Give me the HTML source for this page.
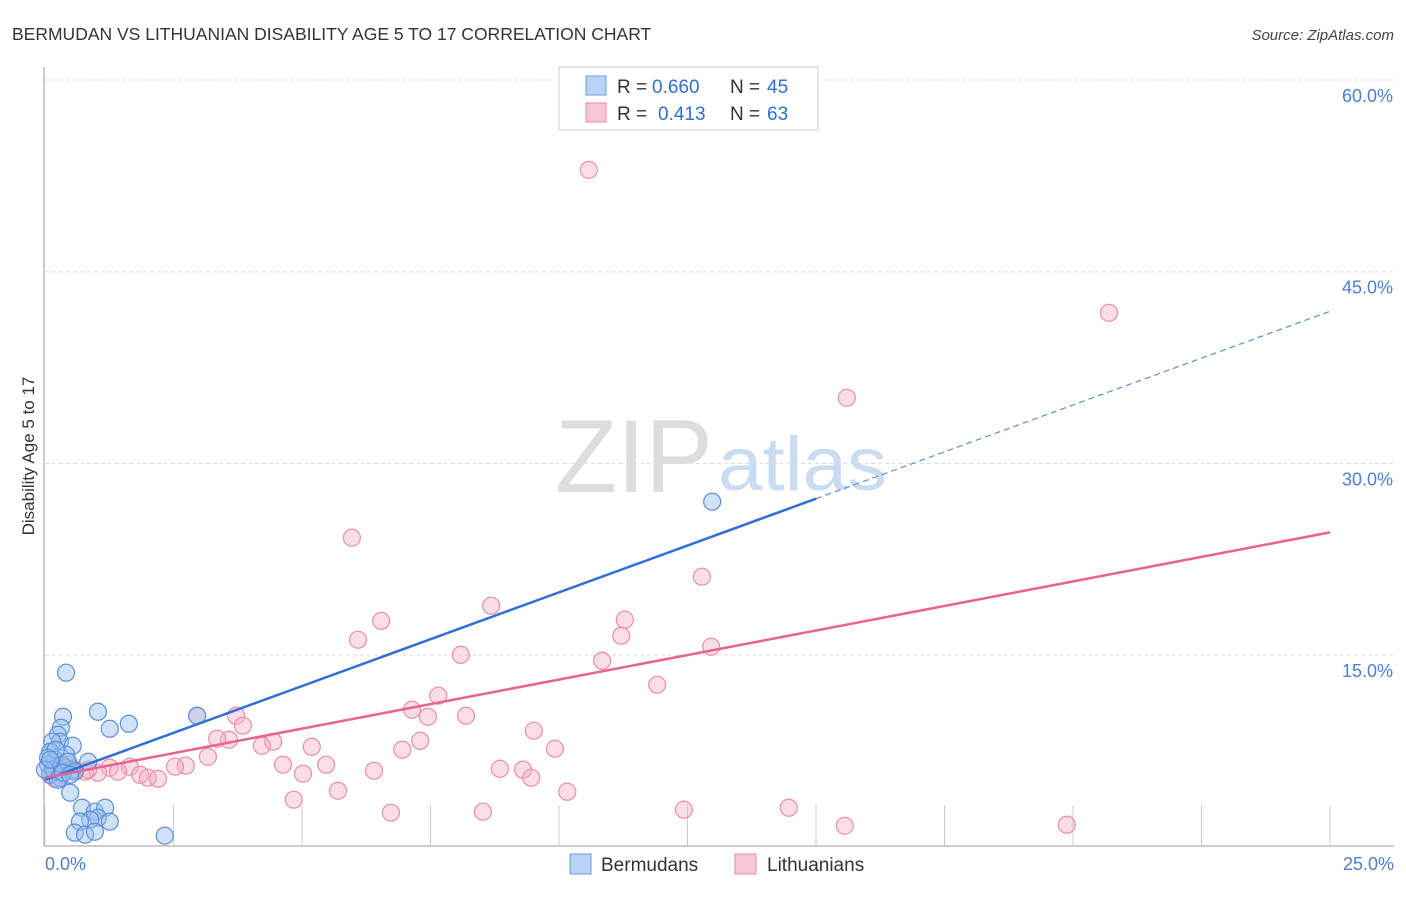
<!DOCTYPE html>
<html><head><meta charset="utf-8"><style>
body{margin:0;background:#fff;font-family:"Liberation Sans",sans-serif;}
svg text{font-family:"Liberation Sans",sans-serif;}
</style></head><body>
<svg id="chart" width="1406" height="892" viewBox="0 0 1406 892" xmlns="http://www.w3.org/2000/svg">
<text x="12" y="40" font-size="17.5" fill="#333">BERMUDAN VS LITHUANIAN DISABILITY AGE 5 TO 17 CORRELATION CHART</text>
<text x="1394" y="40" font-size="15" fill="#444" text-anchor="end" font-style="italic">Source: ZipAtlas.com</text>
<text x="555" y="492" font-size="104" fill="#ddd" font-family="Liberation Serif" textLength="158" lengthAdjust="spacingAndGlyphs">ZIP</text>
<text x="718" y="490" font-size="76" fill="#c9dcf0" textLength="169" lengthAdjust="spacingAndGlyphs">atlas</text>
<g id="grid"></g>
<g id="axes"></g>
<g id="pts"></g>
<g id="trend"></g>
<text transform="translate(34,456) rotate(-90)" font-size="17" fill="#333" text-anchor="middle">Disability Age 5 to 17</text>
<g>
<rect x="559" y="67" width="259" height="63" fill="#fff" stroke="#ccc"/>
<rect x="586" y="76" width="20" height="19" fill="#b8d3f5" stroke="#6b9ee0"/>
<rect x="586" y="103" width="20" height="19" fill="#f9c6d4" stroke="#e98eab"/>
<text x="617" y="93" font-size="19" fill="#333">R =</text>
<text x="652" y="93" font-size="19" fill="#2f6fd0">0.660</text>
<text x="730" y="93" font-size="19" fill="#333">N =</text>
<text x="767" y="93" font-size="19" fill="#2f6fd0">45</text>
<text x="617" y="120" font-size="19" fill="#333">R =</text>
<text x="658" y="120" font-size="19" fill="#2f6fd0">0.413</text>
<text x="730" y="120" font-size="19" fill="#333">N =</text>
<text x="767" y="120" font-size="19" fill="#2f6fd0">63</text>
</g>
<g>
<rect x="570" y="854" width="21" height="20" fill="#b8d3f5" stroke="#6b9ee0"/>
<text x="601" y="871" font-size="19" fill="#333">Bermudans</text>
<rect x="735" y="854" width="21" height="20" fill="#f9c6d4" stroke="#e98eab"/>
<text x="767" y="871" font-size="19" fill="#333">Lithuanians</text>
</g>
</svg>
<script>
const yTicks=[15,30,45,60];
const yTickLabels=["15.0%","30.0%","45.0%","60.0%"];
const xTicks=[0,2.5,5,7.5,10,12.5,15,17.5,20,22.5,25];
const xEndLabels=["0.0%","25.0%"];
const bermX=[0.41,1.03,1.63,1.26,0.35,0.31,0.25,0.29,0.14,0.54,0.10,0.41,0.84,0.19,0.06,0.39,0.53,0.10,0.29,0.19,0.49,0.72,0.97,1.17,1.03,0.88,0.68,1.26,0.58,0.78,0.97,2.33,12.98,2.96,0.06,0.16,0.33,0.25,0,0.45,0.58,0.35,0.21,0.10,0.49];
const bermY=[13.62,10.56,9.62,9.23,10.17,9.31,8.76,8.22,8.22,7.90,7.43,7.20,6.65,6.81,6.42,6.18,6.03,5.63,5.40,5.87,4.23,3.05,2.74,3.05,2.27,2.11,1.96,1.96,1.10,0.94,1.17,0.86,27.0,10.25,6.96,6.03,6.42,5.24,6.03,6.65,5.87,5.79,7.59,6.81,5.63];
const lithX=[10.58,20.70,15.60,5.97,12.78,8.68,11.28,6.54,11.21,6.09,12.96,8.09,10.84,11.91,7.65,2.96,7.14,3.72,8.19,7.45,3.85,9.51,3.58,3.35,7.30,4.44,9.92,6.95,4.22,5.19,3.17,4.63,5.47,2.74,2.53,1.65,1.26,6.40,8.85,9.30,5.02,9.46,1.03,1.42,1.85,2.00,2.20,5.70,10.16,4.84,6.73,8.52,12.43,14.47,15.56,19.88,0.33,0.58,0.78,0.19,0.45,0.10,0.84];
const lithY=[52.97,41.78,35.13,24.18,21.13,18.86,17.76,17.68,16.51,16.20,15.65,15.02,14.55,12.68,11.82,10.25,10.72,10.25,10.25,10.17,9.47,9.08,8.37,8.45,8.29,8.22,7.67,7.59,7.90,7.82,7.04,6.42,6.42,6.34,6.26,6.26,6.18,5.95,6.10,6.03,5.71,5.40,5.79,5.87,5.63,5.40,5.32,4.38,4.30,3.68,2.66,2.74,2.90,3.05,1.64,1.72,5.63,6.03,5.87,5.32,6.42,5.63,6.03];
const bermTrend=[5.24,41.9];
const lithTrend=[5.4,24.6];
const bermSolidEnd=15.0;

const NS="http://www.w3.org/2000/svg";
const X=v=>45+v*(1285/25);
const Y=v=>846.7-v*(575/45);
function mk(tag,attrs,parent){const e=document.createElementNS(NS,tag);for(const k in attrs)e.setAttribute(k,attrs[k]);parent.appendChild(e);return e;}
const grid=document.getElementById('grid'),axes=document.getElementById('axes'),pts=document.getElementById('pts'),trend=document.getElementById('trend');
yTicks.forEach((t,i)=>{
 const l=mk('line',{x1:45,x2:1394,y1:Y(t),y2:Y(t),stroke:'#ddd','stroke-dasharray':'4,3'},grid);
 
 
 const tx=mk('text',{x:1393,y:Y(t)+22,'font-size':18,fill:'#4a80d0','text-anchor':'end'},axes);
 tx.textContent=yTickLabels[i];
 
 
});
const ax1=mk('line',{x1:44,x2:44,y1:67,y2:846,stroke:'#bbb','stroke-width':1.5},axes);


const ax2=mk('line',{x1:44,x2:1394,y1:846,y2:846,stroke:'#bbb','stroke-width':1.5},axes);


xTicks.forEach(t=>{
 const l=mk('line',{x1:X(t),x2:X(t),y1:805,y2:846,stroke:'#ccc'},axes);
 
 
});
[[0,'start',45],[25,'end',1394]].forEach((d,i)=>{
 const tx=mk('text',{x:d[2],y:870,'font-size':18,fill:'#4a80d0','text-anchor':d[1]},axes);
 tx.textContent=xEndLabels[i];
 
 
});
lithX.forEach((v,i)=>{
 const c=mk('circle',{cx:X(v),cy:Y(lithY[i]),r:8.5,fill:'rgba(246,170,195,0.4)',stroke:'#e98eab','stroke-width':1.2},pts);
 
 
});
bermX.forEach((v,i)=>{
 const c=mk('circle',{cx:X(v),cy:Y(bermY[i]),r:8.5,fill:'rgba(150,190,240,0.45)',stroke:'#5b8fd8','stroke-width':1.2},pts);
 
 
});
const bAt=x=>bermTrend[0]+(bermTrend[1]-bermTrend[0])*x/25;
const b1=mk('line',{x1:X(0),y1:Y(bAt(0)),x2:X(bermSolidEnd),y2:Y(bAt(bermSolidEnd)),stroke:'#2f6fd6','stroke-width':2.5},trend);


const b2=mk('line',{x1:X(bermSolidEnd),y1:Y(bAt(bermSolidEnd)),x2:X(25),y2:Y(bAt(25)),stroke:'#5b8fd8','stroke-width':1.2,'stroke-dasharray':'6,4'},trend);


const p1=mk('line',{x1:X(0),y1:Y(lithTrend[0]),x2:X(25),y2:Y(lithTrend[1]),stroke:'#e8648f','stroke-width':2.5},trend);


</script>
</body></html>
